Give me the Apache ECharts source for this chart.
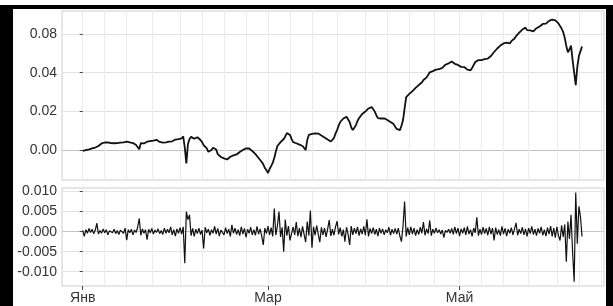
<!DOCTYPE html>
<html>
<head>
<meta charset="utf-8">
<script src="https://cdn.jsdelivr.net/npm/echarts@6/dist/echarts.min.js"></script>
<style>
  html, body { margin: 0; padding: 0; background: #fff; }
  #chart { width: 613px; height: 306px; }
</style>
</head>
<body>
<div id="chart"></div>
<script>
// x is the number of days since 1 January, both series have two values per day

// cumulative series
var cumValues = [
  -0.0004, 0.0002, 0.0000, -0.0003, 0.0003, 0.0009, 0.0008, 0.0006, 0.0013, 0.0020,
  0.0021, 0.0024, 0.0034, 0.0031, 0.0039, 0.0044, 0.0040, 0.0035, 0.0036, 0.0039,
  0.0035, 0.0031, 0.0036, 0.0041, 0.0038, 0.0035, 0.0040, 0.0046, 0.0043, 0.0037,
  0.0039, 0.0042, 0.0036, 0.0030, 0.0026, 0.0018, 0.0004, 0.0035, 0.0040, 0.0034,
  0.0036, 0.0043, 0.0047, 0.0046, 0.0055, 0.0049, 0.0050, 0.0053, 0.0047, 0.0042,
  0.0040, 0.0038, 0.0034, 0.0040, 0.0034, 0.0043, 0.0047, 0.0045, 0.0049, 0.0054,
  0.0052, 0.0056, 0.0062, 0.0060, 0.0071, 0.0012, -0.0069, 0.0030, 0.0057, 0.0068,
  0.0065, 0.0058, 0.0060, 0.0066, 0.0059, 0.0052, 0.0041, 0.0025, 0.0016, 0.0008,
  -0.0009, -0.0002, 0.0000, 0.0012, 0.0016, 0.0003, -0.0021, -0.0030, -0.0036, -0.0036,
  -0.0043, -0.0048, -0.0049, -0.0040, -0.0035, -0.0033, -0.0028, -0.0022, -0.0023, -0.0020,
  -0.0010, -0.0008, 0.0000, 0.0008, 0.0009, 0.0004, 0.0008, 0.0003, -0.0005, -0.0010,
  -0.0021, -0.0028, -0.0041, -0.0048, -0.0062, -0.0074, -0.0093, -0.0104, -0.0119, -0.0098,
  -0.0083, -0.0066, -0.0041, -0.0008, 0.0021, 0.0028, 0.0041, 0.0046, 0.0057, 0.0070,
  0.0088, 0.0080, 0.0078, 0.0058, 0.0041, 0.0043, 0.0035, 0.0030, 0.0028, 0.0026,
  0.0021, 0.0012, 0.0000, 0.0052, 0.0078, 0.0076, 0.0083, 0.0088, 0.0086, 0.0081,
  0.0085, 0.0082, 0.0075, 0.0072, 0.0065, 0.0062, 0.0054, 0.0052, 0.0044, 0.0049,
  0.0062, 0.0085, 0.0103, 0.0126, 0.0145, 0.0150, 0.0163, 0.0168, 0.0172, 0.0162,
  0.0145, 0.0118, 0.0103, 0.0115, 0.0129, 0.0150, 0.0165, 0.0172, 0.0186, 0.0190,
  0.0199, 0.0205, 0.0215, 0.0214, 0.0222, 0.0212, 0.0199, 0.0180, 0.0165, 0.0170,
  0.0163, 0.0158, 0.0164, 0.0162, 0.0155, 0.0152, 0.0145, 0.0142, 0.0134, 0.0120,
  0.0109, 0.0108, 0.0103, 0.0125, 0.0155, 0.0215, 0.0274, 0.0280, 0.0290, 0.0293,
  0.0305, 0.0310, 0.0321, 0.0325, 0.0336, 0.0338, 0.0349, 0.0362, 0.0367, 0.0376,
  0.0388, 0.0402, 0.0411, 0.0408, 0.0411, 0.0416, 0.0414, 0.0418, 0.0427, 0.0425,
  0.0434, 0.0441, 0.0445, 0.0448, 0.0455, 0.0458, 0.0450, 0.0446, 0.0437, 0.0440,
  0.0432, 0.0430, 0.0427, 0.0429, 0.0421, 0.0416, 0.0416, 0.0412, 0.0424, 0.0440,
  0.0455, 0.0462, 0.0465, 0.0461, 0.0465, 0.0469, 0.0470, 0.0466, 0.0473, 0.0478,
  0.0486, 0.0494, 0.0507, 0.0513, 0.0525, 0.0530, 0.0540, 0.0543, 0.0551, 0.0549,
  0.0555, 0.0550, 0.0551, 0.0563, 0.0569, 0.0577, 0.0589, 0.0596, 0.0607, 0.0612,
  0.0623, 0.0630, 0.0633, 0.0620, 0.0613, 0.0619, 0.0618, 0.0614, 0.0623, 0.0630,
  0.0636, 0.0639, 0.0646, 0.0652, 0.0657, 0.0654, 0.0662, 0.0668, 0.0670, 0.0675,
  0.0680, 0.0671, 0.0663, 0.0655, 0.0641, 0.0628, 0.0610, 0.0580, 0.0538, 0.0505,
  0.0520, 0.0540, 0.0465, 0.0400, 0.0336, 0.0430, 0.0486, 0.0510, 0.0535
];

// returns
var retValues = [
  0.0003, -0.0012, 0.0005, -0.0004, 0.0008, -0.0002, 0.0006, -0.0005, 0.0004, 0.0021, -0.0006, 0.0003, -0.0004, 0.0007, -0.0003, 0.0005, -0.0008, 0.0002, 0.0004, -0.0003,
  0.0006, -0.0005, 0.0003, -0.0007, 0.0004, 0.0002, -0.0004, 0.0009, -0.0021, 0.0005, -0.0003, 0.0006, -0.0008, 0.0004, -0.0002, 0.0011, 0.0033, -0.0009, 0.0007, -0.0004,
  0.0005, -0.0020, 0.0006, -0.0003, 0.0008, -0.0006, 0.0004, -0.0002, 0.0007, -0.0005, 0.0003, -0.0007, 0.0009, -0.0004, 0.0006, -0.0003, 0.0012, -0.0008, 0.0005, -0.0011,
  0.0007, -0.0004, 0.0010, -0.0006, 0.0012, -0.0079, 0.0050, 0.0030, 0.0042, -0.0010, 0.0008, -0.0012, 0.0006, -0.0005, 0.0009, -0.0007, 0.0004, -0.0042, 0.0011, -0.0003,
  0.0006, -0.0009, 0.0005, -0.0004, 0.0013, -0.0006, 0.0008, -0.0011, 0.0004, 0.0007, -0.0008, 0.0010, -0.0005, 0.0006, -0.0012, 0.0017, -0.0004, 0.0009, -0.0007, 0.0005,
  -0.0010, 0.0012, -0.0006, 0.0008, -0.0014, 0.0006, -0.0004, 0.0011, -0.0008, 0.0005, -0.0009, 0.0013, -0.0006, 0.0007, -0.0011, -0.0033, 0.0009, -0.0005, 0.0014, -0.0008,
  0.0010, -0.0012, 0.0058, -0.0009, 0.0015, 0.0050, -0.0013, 0.0011, -0.0050, 0.0030, -0.0010, 0.0014, -0.0022, -0.0025, 0.0012, -0.0008, 0.0024, -0.0011, 0.0009, -0.0014,
  0.0013, -0.0007, -0.0026, 0.0025, -0.0010, 0.0053, -0.0040, 0.0012, -0.0009, 0.0015, -0.0006, -0.0026, 0.0011, -0.0008, 0.0009, -0.0013, 0.0007, 0.0029, -0.0011, 0.0006,
  -0.0009, 0.0012, 0.0026, -0.0007, 0.0010, -0.0012, 0.0005, -0.0025, 0.0011, -0.0006, -0.0033, 0.0014, -0.0008, 0.0009, -0.0005, 0.0012, -0.0010, 0.0007, -0.0006, 0.0013,
  -0.0009, 0.0031, -0.0012, 0.0008, -0.0005, 0.0010, -0.0007, 0.0006, -0.0011, 0.0009, -0.0004, 0.0007, -0.0008, 0.0005, -0.0003, 0.0011, -0.0009, 0.0006, -0.0005, 0.0008,
  -0.0006, 0.0009, -0.0011, -0.0025, 0.0014, 0.0075, -0.0012, 0.0010, -0.0008, 0.0012, -0.0006, 0.0009, -0.0010, 0.0005, -0.0007, 0.0011, -0.0004, 0.0024, -0.0009, 0.0007,
  -0.0005, 0.0028, -0.0010, 0.0006, -0.0004, 0.0009, -0.0003, 0.0005, -0.0006, 0.0004, -0.0015, 0.0003, -0.0002, 0.0006, -0.0004, 0.0008, -0.0007, 0.0012, -0.0005, 0.0009,
  -0.0011, 0.0007, -0.0004, 0.0010, -0.0008, 0.0013, -0.0006, 0.0005, -0.0012, 0.0009, -0.0003, 0.0036, -0.0010, 0.0006, -0.0007, 0.0011, -0.0005, 0.0008, -0.0009, 0.0012,
  -0.0006, 0.0009, -0.0022, 0.0010, -0.0007, 0.0005, -0.0010, 0.0013, -0.0006, 0.0008, -0.0011, 0.0006, -0.0004, 0.0010, -0.0008, 0.0007, 0.0022, -0.0009, 0.0006, -0.0005,
  0.0011, -0.0008, 0.0007, -0.0012, 0.0009, -0.0005, 0.0013, -0.0007, 0.0006, -0.0010, 0.0008, -0.0004, 0.0012, -0.0009, 0.0005, -0.0011, 0.0010, -0.0006, 0.0014, -0.0012,
  0.0009, -0.0015, 0.0012, -0.0010, -0.0022, 0.0016, -0.0013, 0.0018, -0.0075, 0.0025, -0.0018, 0.0042, -0.0050, -0.0125, 0.0098, -0.0030, 0.0063, 0.0038, -0.0012
];

var xTickDays = [0, 59, 120];
var xTickLabels = ['Янв', 'Мар', 'Май'];
var gridDays = [0, 7, 14, 22, 31, 38, 45, 52, 59, 66, 73, 81, 90, 97, 104, 112, 120, 127, 134, 142, 151, 158, 165];

var topTickValues = [0, 0.02, 0.04, 0.06];
var topTickLabels = ['0.00', '0.02', '0.04', '0.08'];
var botTickValues = [-0.01, -0.005, 0, 0.005, 0.01];
var botTickLabels = ['-0.010', '-0.005', '0.000', '0.005', '0.010'];

var cumData = cumValues.map(function (v, i) { return [i / 2, v]; });
var retData = retValues.map(function (v, i) { return [i / 2, v]; });

var xMin = -6.6;
var xMax = 166;
var textColor = '#333';
var font = 'Liberation Sans';
var gridColor = '#ebebeb';

function lookup(values, labels) {
  return function (v) {
    for (var i = 0; i < values.length; i++) {
      if (Math.abs(values[i] - v) < 1e-9) return labels[i];
    }
    return '';
  };
}

function gridXAxis(gridIndex) {
  return {
    type: 'value', gridIndex: gridIndex, min: xMin, max: xMax, position: 'top',
    axisLine: { show: false },
    axisTick: { show: false, customValues: gridDays },
    axisLabel: { show: false },
    splitLine: { show: true, lineStyle: { color: gridColor, width: 1 } }
  };
}

var chart = echarts.init(document.getElementById('chart'));
chart.setOption({
  animation: false,
  backgroundColor: '#fff',
  grid: [
    { left: 62, right: 9, top: 11, height: 169, show: true, borderColor: '#cccccc', borderWidth: 1, backgroundColor: 'transparent' },
    { left: 62, right: 9, top: 188, height: 98, show: true, borderColor: '#cccccc', borderWidth: 1, backgroundColor: 'transparent' }
  ],
  xAxis: [
    gridXAxis(0),
    gridXAxis(1),
    {
      type: 'value', gridIndex: 1, min: xMin, max: xMax, position: 'bottom',
      axisLine: { show: false },
      axisTick: { show: true, length: 4, customValues: xTickDays, lineStyle: { color: '#444' } },
      axisLabel: {
        show: true, customValues: xTickDays, margin: 5,
        color: textColor, fontSize: 14, fontFamily: font,
        formatter: lookup(xTickDays, xTickLabels)
      },
      splitLine: { show: false }
    }
  ],
  yAxis: [
    {
      type: 'value', gridIndex: 0, min: -0.0155, max: 0.0719,
      axisLine: { show: false },
      axisTick: { show: true, length: 3, customValues: topTickValues, lineStyle: { color: '#444' } },
      axisLabel: {
        customValues: topTickValues, margin: 5, color: textColor, fontSize: 14, fontFamily: font,
        formatter: lookup(topTickValues, topTickLabels)
      },
      splitLine: { show: true, lineStyle: { color: ['#c4c4c4', '#e3e3e3', '#e3e3e3', '#e3e3e3'] } }
    },
    {
      type: 'value', gridIndex: 1, min: -0.01357, max: 0.0109,
      axisLine: { show: false },
      axisTick: { show: true, length: 3, customValues: botTickValues, lineStyle: { color: '#444' } },
      axisLabel: {
        customValues: botTickValues, margin: 5, color: textColor, fontSize: 14, fontFamily: font,
        formatter: lookup(botTickValues, botTickLabels)
      },
      splitLine: { show: true, lineStyle: { color: ['#e3e3e3', '#e3e3e3', '#c4c4c4', '#e3e3e3', '#e3e3e3'] } }
    }
  ],
  series: [
    {
      type: 'line', xAxisIndex: 0, yAxisIndex: 0, data: cumData,
      showSymbol: false, lineStyle: { color: '#111', width: 1.8 }
    },
    {
      type: 'line', xAxisIndex: 2, yAxisIndex: 1, data: retData,
      showSymbol: false, lineStyle: { color: '#111', width: 1.2 }
    }
  ],
  graphic: [
    { type: 'rect', shape: { x: 0, y: 5, width: 613, height: 4 }, style: { fill: '#000' } },
    { type: 'rect', shape: { x: 0, y: 5, width: 13, height: 301 }, style: { fill: '#000' } },
    { type: 'rect', shape: { x: 606, y: 5, width: 7, height: 301 }, style: { fill: '#000' } }
  ]
});
</script>
</body>
</html>
